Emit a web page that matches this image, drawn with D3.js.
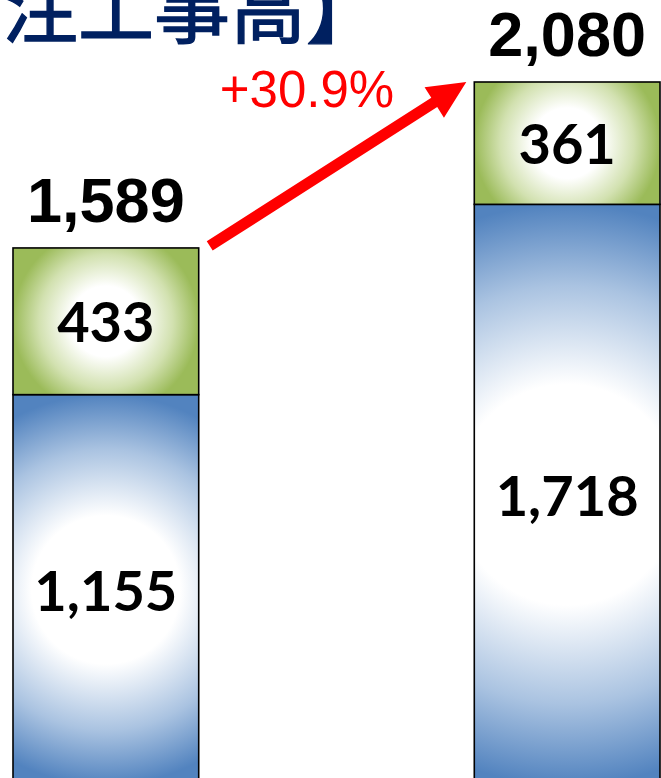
<!DOCTYPE html>
<html>
<head>
<meta charset="utf-8">
<script src="https://cdn.jsdelivr.net/npm/d3@7"></script>
<style>
  html, body { margin: 0; padding: 0; background: #fff; overflow: hidden; }
  svg { display: block; }
</style>
</head>
<body>
<svg width="661" height="778"></svg>
<script>
// data
const periods = ["前期", "当期"];
const lowerValues = [1155, 1718];   // blue segment
const upperValues = [433, 361];     // green segment
const totalLabels = ["1,589", "2,080"];
const totals = [1589, 2080];
const growthLabel = "+30.9%";
const titleText = "【受注工事高】";

const svg = d3.select("svg");
const defs = svg.append("defs");

// scales
const x = d3.scaleBand().domain(periods).range([13, 660]).paddingInner(0.5974).paddingOuter(0);
const y = d3.scaleLinear().domain([0, 2080]).range([785, 82]);

// title (cut at top/left like in the source)
svg.append("text")
    .attr("x", -150)
    .attr("y", 37)
    .attr("font-family", "'Noto Sans CJK JP', sans-serif")
    .attr("font-weight", "normal")
    .attr("font-size", 76)
    .attr("fill", "#002060")
    .attr("stroke", "#002060")
    .attr("stroke-width", 1.4)
    .text(titleText);

// build segments
const segs = [];
periods.forEach((p, i) => {
    segs.push({ key: "b" + i, period: p, y0: 0, y1: lowerValues[i], value: lowerValues[i], color: "#5283bf", mid: "#aac3e1" });
    segs.push({ key: "g" + i, period: p, y0: lowerValues[i], y1: totals[i], value: upperValues[i], color: "#9bbb59", mid: "#d2e1b0" });
});

segs.forEach(d => {
    const w = x.bandwidth();
    const top = y(d.y1), bot = y(d.y0);
    const h = bot - top;
    const g = defs.append("radialGradient")
        .attr("id", "grad-" + d.key)
        .attr("gradientUnits", "userSpaceOnUse")
        .attr("cx", x(d.period) + w / 2)
        .attr("cy", top + h / 2)
        .attr("r", Math.max(w, h) / 2);
    g.append("stop").attr("offset", 0).attr("stop-color", "#fff");
    g.append("stop").attr("offset", 0.38).attr("stop-color", "#fff");
    g.append("stop").attr("offset", 0.72).attr("stop-color", d.mid);
    g.append("stop").attr("offset", 1).attr("stop-color", d.color);
});

svg.append("g").selectAll("rect")
    .data(segs).enter()
    .append("rect")
    .attr("x", d => x(d.period))
    .attr("y", d => y(d.y1))
    .attr("width", x.bandwidth())
    .attr("height", d => y(d.y0) - y(d.y1))
    .attr("fill", d => "url(#grad-" + d.key + ")")
    .attr("stroke", "#000")
    .attr("stroke-width", 1.6);

// segment labels
svg.append("g").selectAll("text")
    .data(segs).enter()
    .append("text")
    .attr("x", d => x(d.period) + x.bandwidth() / 2)
    .attr("y", d => (y(d.y0) + y(d.y1)) / 2 + 21)
    .attr("text-anchor", "middle")
    .attr("font-family", "Lato, sans-serif")
    .attr("font-weight", "bold")
    .attr("font-size", 56)
    .attr("fill", "#000")
    .text(d => d3.format(",")(d.value));

// totals
svg.append("g").selectAll("text")
    .data(periods).enter()
    .append("text")
    .attr("x", d => x(d) + x.bandwidth() / 2)
    .attr("y", (d, i) => y(totals[i]) - 26)
    .attr("text-anchor", "middle")
    .attr("font-family", "'Liberation Sans', Arial, sans-serif")
    .attr("font-weight", "bold")
    .attr("font-size", 63)
    .attr("fill", "#000")
    .text((d, i) => totalLabels[i]);

// growth arrow
const x0 = x(periods[0]) + x.bandwidth() + 11, y0 = y(totals[0]) - 2;
const x1 = x(periods[1]) - 8, y1 = y(totals[1]);
const dx = x1 - x0, dy = y1 - y0, len = Math.hypot(dx, dy);
const ux = dx / len, uy = dy / len, nx = -uy, ny = ux;
const shaftW = 11, headL = 38, headW = 36;
const bx = x1 - ux * headL, by = y1 - uy * headL;
const pts = [
    [x0 + nx * shaftW / 2, y0 + ny * shaftW / 2],
    [bx + nx * shaftW / 2, by + ny * shaftW / 2],
    [bx + nx * headW / 2, by + ny * headW / 2],
    [x1, y1],
    [bx - nx * headW / 2, by - ny * headW / 2],
    [bx - nx * shaftW / 2, by - ny * shaftW / 2],
    [x0 - nx * shaftW / 2, y0 - ny * shaftW / 2]
];
svg.append("path")
    .attr("d", d3.line()(pts) + "Z")
    .attr("fill", "#ff0000");

svg.append("text")
    .attr("x", 307)
    .attr("y", 107)
    .attr("text-anchor", "middle")
    .attr("font-family", "'Liberation Sans', Arial, sans-serif")
    .attr("font-size", 51)
    .attr("fill", "#ff0000")
    .text(growthLabel);
</script>
</body>
</html>
